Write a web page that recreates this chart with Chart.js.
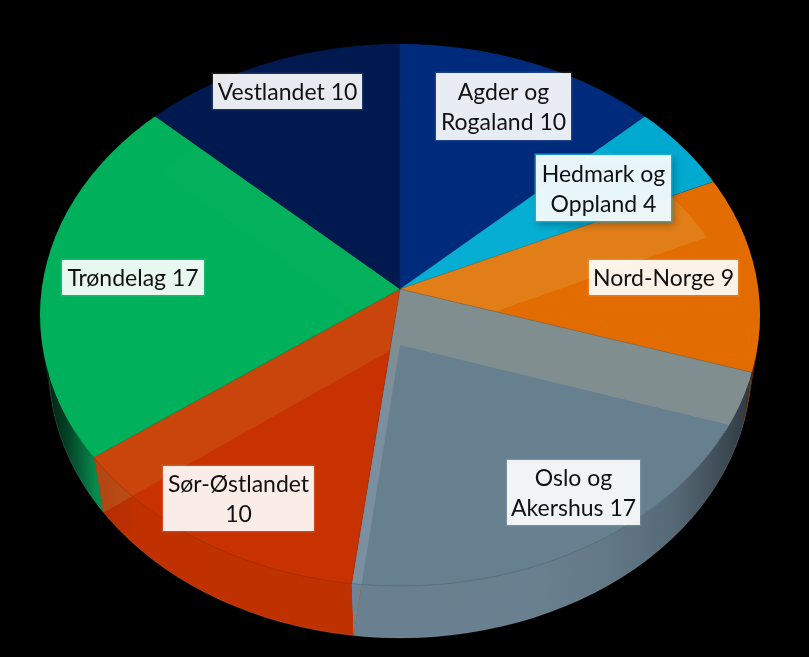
<!DOCTYPE html>
<html><head><meta charset="utf-8">
<style>html,body{margin:0;padding:0;background:#000;overflow:hidden}canvas{display:block}</style>
<script src="https://cdn.jsdelivr.net/npm/chart.js@4"></script>
</head><body>
<canvas id="c" width="809" height="657"></canvas>
<script>
const categories = ['Agder og Rogaland','Hedmark og Oppland','Nord-Norge','Oslo og Akershus','Sør-Østlandet','Trøndelag','Vestlandet'];
const values = [10,4,9,17,10,17,10];
const sliceColors = ['#002a7c','#00a9d0','#e36c00','#678090','#c83200','#00b05a','#001a50'];
const wallColors  = ['#002c80','#06aed3','#e17e18','#808e90','#c9450c','#03b15d','#001c55'];
const stripColors = ['#002c80','#06aed3','#e17e18','#7a8fa0','#c9450c','#03b15d','#001c55'];
const rimColors   = ['#00226a','#0090b0','#d06200','#6a8090','#c03200','#0a9a58','#00153f'];
const rimWallColors = ['#00226a','#0090b0','#d06200','#6f8495','#c04e16','#0a9a58','#00153f'];
const labelBoxes = [[436,73,135,67],[536,155,135,66],[589,260,149,35],[507,460,133,65],[163,466,151,65],[62,260,142,35],[213,74,149,35]];

const TOP = {ax:400, ay:289, sx:1, sy:.75, cx:400, cy:315, rx:360, ry:271};
const BOT = {ax:400, ay:345, sx:.975, sy:.75, cx:400, cy:368, rx:351, ry:270};
const K = 2.5;

function lerpPlane(t){const o={};for(const k in TOP)o[k]=TOP[k]+(BOT[k]-TOP[k])*t;return o;}
function ellipsePath(ctx,p){ctx.beginPath();ctx.ellipse(p.cx,p.cy,p.rx,p.ry,0,0,Math.PI*2);}
function place(ctx,p,a){ctx.translate(p.ax,p.ay);ctx.scale(p.sx*K,p.sy*K);ctx.translate(-a.x,-a.y);}
function wedgePath(ctx,a){ctx.beginPath();ctx.moveTo(a.x,a.y);ctx.arc(a.x,a.y,a.outerRadius,a.startAngle,a.endAngle);ctx.closePath();}
function fillWedge(ctx,p,a,color){ctx.save();place(ctx,p,a);wedgePath(ctx,a);ctx.fillStyle=color;ctx.fill();ctx.restore();}
function clipWedge(ctx,p,a){ctx.save();place(ctx,p,a);wedgePath(ctx,a);ctx.restore();ctx.clip();}
function clipOutsideWedge(ctx,p,a){
  ctx.beginPath();ctx.rect(0,0,809,657);
  ctx.save();place(ctx,p,a);ctx.moveTo(a.x,a.y);ctx.arc(a.x,a.y,a.outerRadius,a.startAngle,a.endAngle);ctx.closePath();ctx.restore();
  ctx.clip('evenodd');
}

const pie3d = {
  id:'pie3d',
  beforeDatasetsDraw(chart){
    const ctx = chart.ctx, arcs = chart.getDatasetMeta(0).data;
    // side wall: stacked planes from the bottom face up to the top face
    ctx.save();
    const N = 56;
    for(let i=N;i>=1;i--){
      const p = lerpPlane(i/N);
      ctx.save();ellipsePath(ctx,p);ctx.clip();
      arcs.forEach((a,j)=>fillWedge(ctx,p,a,rimColors[j]));
      ctx.restore();
    }
    // inner wall seen through the side, where a slice's rim lies outside its floor
    arcs.forEach((a,j)=>{
      if(rimWallColors[j]===rimColors[j]) return;
      ctx.save();clipOutsideWedge(ctx,BOT,a);
      for(let i=N;i>=1;i--){
        const p = lerpPlane(i/N);
        ctx.save();ellipsePath(ctx,p);ctx.clip();
        fillWedge(ctx,p,a,rimWallColors[j]);
        ctx.restore();
      }
      ctx.restore();
    });
    // side wall shading towards both ends
    ctx.globalCompositeOperation='source-atop';
    const g = ctx.createLinearGradient(40,0,760,0);
    g.addColorStop(0,'rgba(0,0,0,.85)');g.addColorStop(.035,'rgba(0,0,0,.6)');g.addColorStop(.08,'rgba(0,0,0,.08)');
    g.addColorStop(.14,'rgba(0,0,0,0)');g.addColorStop(.68,'rgba(0,0,0,0)');g.addColorStop(.78,'rgba(0,0,0,.05)');g.addColorStop(.88,'rgba(0,0,0,.18)');
    g.addColorStop(.96,'rgba(0,0,0,.45)');g.addColorStop(1,'rgba(0,0,0,.65)');
    ctx.fillStyle=g;ctx.fillRect(0,0,809,657);
    ctx.restore();
    // faint edge highlight of the lower rim
    ctx.save();ctx.beginPath();ctx.rect(0,380,809,277);ctx.clip();
    ellipsePath(ctx,BOT);ctx.strokeStyle='rgba(255,255,255,.13)';ctx.lineWidth=1;ctx.stroke();ctx.restore();

    // top face
    arcs.forEach((a,j)=>{
      ctx.save();
      ellipsePath(ctx,TOP);ctx.clip();
      clipWedge(ctx,TOP,a);
      ctx.save();place(ctx,TOP,a);a.draw(ctx);ctx.restore();
      ellipsePath(ctx,BOT);ctx.clip();
      const w = ctx.createLinearGradient(384,0,398,0);
      w.addColorStop(0,stripColors[j]);w.addColorStop(1,wallColors[j]);
      ctx.fillStyle=w;ctx.fillRect(0,0,809,657);
      fillWedge(ctx,BOT,a,sliceColors[j]);
      ctx.restore();
    });
    // seams
    ctx.save();ctx.beginPath();ctx.rect(0,430,809,227);ctx.clip();
    ellipsePath(ctx,TOP);ctx.strokeStyle='rgba(0,0,0,.14)';ctx.lineWidth=1;ctx.stroke();ctx.restore();
    ctx.save();ellipsePath(ctx,TOP);ctx.clip();
    arcs.forEach(a=>{ctx.save();place(ctx,TOP,a);ctx.beginPath();ctx.moveTo(a.x,a.y);
      ctx.lineTo(a.x+Math.cos(a.startAngle)*a.outerRadius,a.y+Math.sin(a.startAngle)*a.outerRadius);ctx.restore();
      ctx.strokeStyle='rgba(60,50,40,.25)';ctx.lineWidth=1;ctx.stroke();});
    ctx.restore();

    // labels
    ctx.save();
    ctx.font='23px Lato, Carlito, sans-serif';ctx.textAlign='center';ctx.textBaseline='middle';
    categories.forEach((name,j)=>{
      const b = labelBoxes[j];
      ctx.save();
      if(j===1){ctx.shadowColor='rgba(0,0,0,.35)';ctx.shadowBlur=7;ctx.shadowOffsetX=2;ctx.shadowOffsetY=3;
        ctx.fillStyle='rgba(30,180,215,.75)';ctx.fillRect(b[0]-1.5,b[1]-1.5,b[2]+3,b[3]+3);}
      else{ctx.fillStyle='rgba(255,255,255,.1)';ctx.fillRect(b[0]-1.5,b[1]-1.5,b[2]+3,b[3]+3);}
      ctx.restore();
      ctx.fillStyle='rgba(255,255,255,.9)';ctx.fillRect(b[0],b[1],b[2],b[3]);
      const words=(name+' '+values[j]).split(' ');const lines=[];let cur='';
      words.forEach(w=>{const t=cur?cur+' '+w:w;if(ctx.measureText(t).width>b[2]-6&&cur){lines.push(cur);cur=w;}else cur=t;});
      lines.push(cur);
      ctx.fillStyle='#111';
      const lh=30,y0=b[1]+b[3]/2+1.5-(lines.length-1)*lh/2;
      lines.forEach((l,i)=>ctx.fillText(l,b[0]+b[2]/2,y0+i*lh));
    });
    ctx.restore();
    return false;
  }
};

new Chart(document.getElementById('c'),{
  type:'pie',
  data:{labels:categories,datasets:[{data:values,backgroundColor:sliceColors,borderWidth:0}]},
  options:{responsive:false,animation:false,devicePixelRatio:1,
    plugins:{legend:{display:false},tooltip:{enabled:false}}},
  plugins:[pie3d]
});
</script>
</body></html>
